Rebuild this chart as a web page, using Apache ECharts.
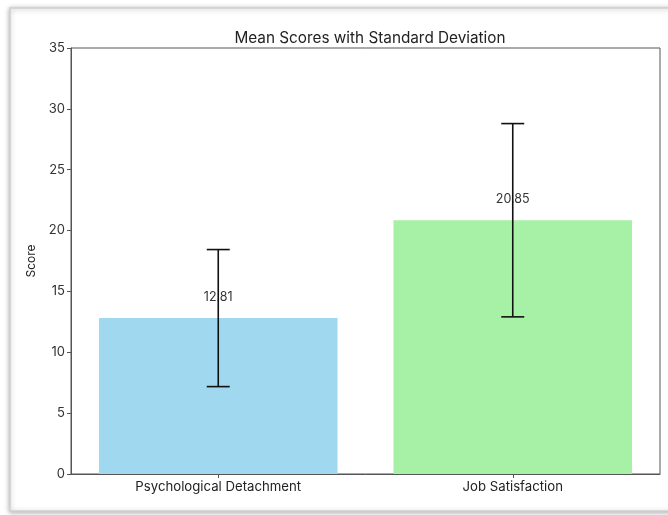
<!DOCTYPE html>
<html>
<head>
<meta charset="utf-8">
<script src="https://cdn.jsdelivr.net/npm/echarts@6/dist/echarts.min.js"></script>
<style>
html,body{margin:0;padding:0;background:#fff;}
#chart{width:668px;height:515px;}
</style>
</head>
<body>
<div id="chart"></div>
<script>
const categories = ['Psychological Detachment', 'Job Satisfaction'];
const means = [12.81, 20.85];
const stds = [5.63, 7.94];
const barColors = ['#9fd8ef', '#a6f1a6'];
const yTicks = [0, 5, 10, 15, 20, 25, 30, 35];

const FONT = 'Inter';
const chart = echarts.init(document.getElementById('chart'), null, {renderer: 'canvas'});

const errData = categories.map((c, i) => [i, means[i] - stds[i], means[i] + stds[i]]);

chart.setOption({
  backgroundColor: '#fff',
  animation: false,
  graphic: [{
    type: 'rect',
    shape: {x: 10, y: 8, width: 720, height: 503},
    style: {fill: '#fff', stroke: '#cfcfcf', lineWidth: 1.5, shadowBlur: 5, shadowColor: 'rgba(0,0,0,0.3)', shadowOffsetX: 0, shadowOffsetY: 1},
    z: -10, silent: true
  }],
  title: {
    text: 'Mean Scores with Standard Deviation',
    left: 365, top: 26, textAlign: 'center',
    textStyle: {fontFamily: FONT, fontSize: 15.3, fontWeight: 'normal', color: '#222'}
  },
  grid: {left: 71, right: 8, top: 48, bottom: 41, show: true, borderColor: '#555', borderWidth: 1, backgroundColor: 'transparent'},
  xAxis: {
    type: 'category', data: categories,
    axisLine: {show: true, lineStyle: {color: '#555', width: 1}},
    axisTick: {show: true, alignWithLabel: true, length: 4, lineStyle: {color: '#555'}},
    axisLabel: {fontFamily: FONT, fontSize: 13.2, color: '#222', margin: 7},
    splitLine: {show: false}
  },
  yAxis: {
    type: 'value', min: yTicks[0], max: yTicks[yTicks.length - 1], interval: 5,
    name: 'Score', nameLocation: 'middle', nameGap: 31,
    nameTextStyle: {fontFamily: FONT, fontSize: 12, color: '#222'},
    axisLine: {show: true, lineStyle: {color: '#555', width: 1}},
    axisTick: {show: true, length: 4, lineStyle: {color: '#555'}},
    axisLabel: {fontFamily: FONT, fontSize: 13, color: '#333', margin: 6},
    splitLine: {show: false}
  },
  series: [{
    type: 'bar',
    barWidth: '81%',
    data: means.map((v, i) => ({value: v, itemStyle: {color: barColors[i]}})),
    label: {
      show: true, position: 'top', distance: 14,
      formatter: p => p.value.toFixed(2),
      fontFamily: FONT, fontSize: 12.5, color: '#333'
    },
    z: 2
  }, {
    type: 'custom',
    z: 10,
    data: errData,
    renderItem: function (params, api) {
      const x = api.coord([api.value(0), 0])[0];
      const lo = api.coord([api.value(0), api.value(1)])[1];
      const hi = api.coord([api.value(0), api.value(2)])[1];
      const cap = 11.5;
      const st = {stroke: '#111', lineWidth: 1.6};
      return {
        type: 'group',
        children: [
          {type: 'line', shape: {x1: x, y1: lo, x2: x, y2: hi}, style: st},
          {type: 'line', shape: {x1: x - cap, y1: hi, x2: x + cap, y2: hi}, style: st},
          {type: 'line', shape: {x1: x - cap, y1: lo, x2: x + cap, y2: lo}, style: st}
        ]
      };
    }
  }]
});
</script>
</body>
</html>
